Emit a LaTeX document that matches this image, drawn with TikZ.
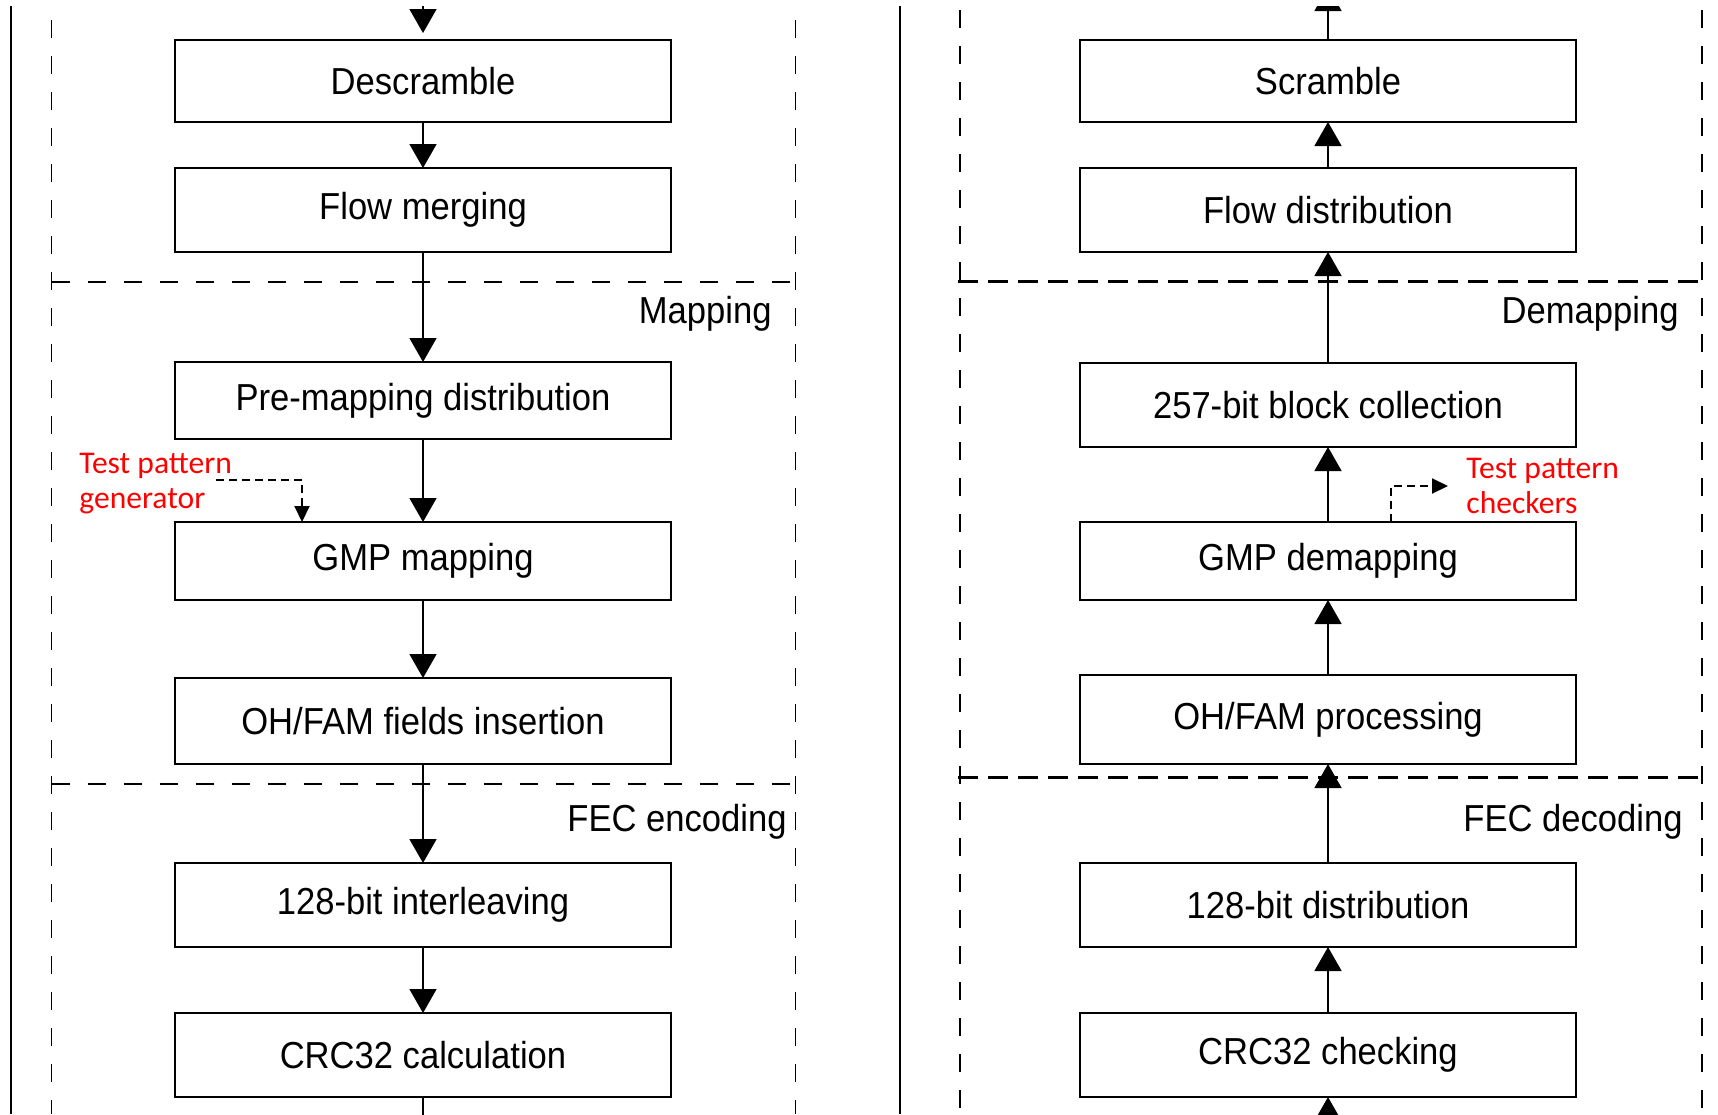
\documentclass[tikz,border=0pt]{standalone}
\usepackage{fontspec}
\setmainfont{Liberation Sans}[FakeStretch=0.92]
\newfontfamily\notefont{Carlito}
\usetikzlibrary{calc,arrows.meta}

\begin{document}
\begin{tikzpicture}[
	x=0.5pt,y=-0.5pt,
	block/.style={rectangle,draw,line width=0.9pt,minimum width=248pt,minimum height=42pt,inner sep=0pt,outer sep=0pt,font=\fontsize{18.8}{22}\selectfont},
	group/.style={anchor=east,inner sep=0pt,font=\fontsize{18.8}{22}\selectfont},
	directed/.style={line width=0.75pt,arrows={-Triangle[width=13.5pt,length=12pt]}},
	probe/.style={line width=1pt,dash pattern=on 4pt off 2.5pt,arrows={-Triangle[width=7.5pt,length=8pt]}},
	note/.style={anchor=west,align=left,inner sep=2pt,text=red,font=\notefont\fontsize{15.8}{17.5}\selectfont},
	frame/.style={line width=0.75pt,dash pattern=on 9pt off 9pt},
	boldframe/.style={line width=1.5pt,dash pattern=on 10pt off 5pt}]
	\useasboundingbox (0,0) rectangle (1718,1114);
	\clip (0,6) rectangle (1718,1114);
	\draw[line width=1pt] (11,0) -- (11,1114);
	\draw[line width=1pt] (900,0) -- (900,1114);
	\draw[frame] (51.5,20) -- (51.5,1114);
	\draw[frame] (795.5,20) -- (795.5,1114);
	\draw[frame] (51.5,282) -- (795.5,282);
	\draw[frame] (51.5,784) -- (795.5,784);
	\draw[frame] (960,10) -- (960,1114);
	\draw[frame] (1702,10) -- (1702,1114);
	\draw[boldframe] (958,281) -- (1704,281);
	\draw[boldframe] (958,777) -- (1704,777);
	\node[block,minimum height=41pt] (desc) at (423,81) {Descramble};
	\node[block] (flowm) at (423,210) {Flow merging};
	\node[block,minimum height=38.5pt] (premap) at (423,400.5) {Pre-mapping distribution};
	\node[block,minimum height=39pt] (gmpm) at (423,561) {GMP mapping};
	\node[block,minimum height=43pt] (ohins) at (423,721) {OH/FAM fields insertion};
	\node[block] (intl) at (423,905) {128-bit interleaving};
	\node[block] (crcc) at (423,1055) {CRC32 calculation};
	\node[block,minimum height=41pt] (scr) at (1328,81) {Scramble};
	\node[block] (flowd) at (1328,210) {Flow distribution};
	\node[block] (blockc) at (1328,405) {257-bit block collection};
	\node[block,minimum height=39pt] (gmpd) at (1328,561) {GMP demapping};
	\node[block,minimum height=44.5pt] (ohproc) at (1328,719.5) {OH/FAM processing};
	\node[block] (dist) at (1328,905) {128-bit distribution};
	\node[block] (crcchk) at (1328,1055) {CRC32 checking};
	\node[group] (mapl) at (772,314) {Mapping};
	\node[group] (demapl) at (1679,314) {Demapping};
	\node[group] (fecenc) at (787,822) {FEC encoding};
	\node[group] (fecdec) at (1683,822) {FEC decoding};
	\coordinate (inL) at (423,-40);
	\coordinate (outL) at (423,1140);
	\draw[directed,shorten >=3.5pt] (inL) -- (desc);
	\draw[directed] (desc) -- (flowm);
	\draw[directed] (flowm) -- (premap);
	\draw[directed] (premap) -- (gmpm);
	\draw[directed] (gmpm) -- (ohins);
	\draw[directed] (ohins) -- (intl);
	\draw[directed] (intl) -- (crcc);
	\draw[line width=0.75pt] (crcc) -- (outL);
	\coordinate (outR) at (1328,-13);
	\coordinate (inR) at (1328,1140);
	\draw[directed] (scr) -- (outR);
	\draw[directed] (flowd) -- (scr);
	\draw[directed] (blockc) -- (flowd);
	\draw[directed] (gmpd) -- (blockc);
	\draw[directed] (ohproc) -- (gmpd);
	\draw[directed] (dist) -- (ohproc);
	\draw[directed] (crcchk) -- (dist);
	\draw[directed] (inR) -- (crcchk);
	\node[note] (gen) at (75,484) {Test pattern\\generator};
	\coordinate (genout) at (216,480);
	\draw[probe] (genout) -| ($(gmpm.north west)+(127,0)$);
	\node[note] (chk) at (1462,486) {Test pattern\\checkers};
	\draw[probe,shorten >=7pt] ($(gmpd.north west)+(311,0)$) |- (chk.west);
\end{tikzpicture}
\end{document}
